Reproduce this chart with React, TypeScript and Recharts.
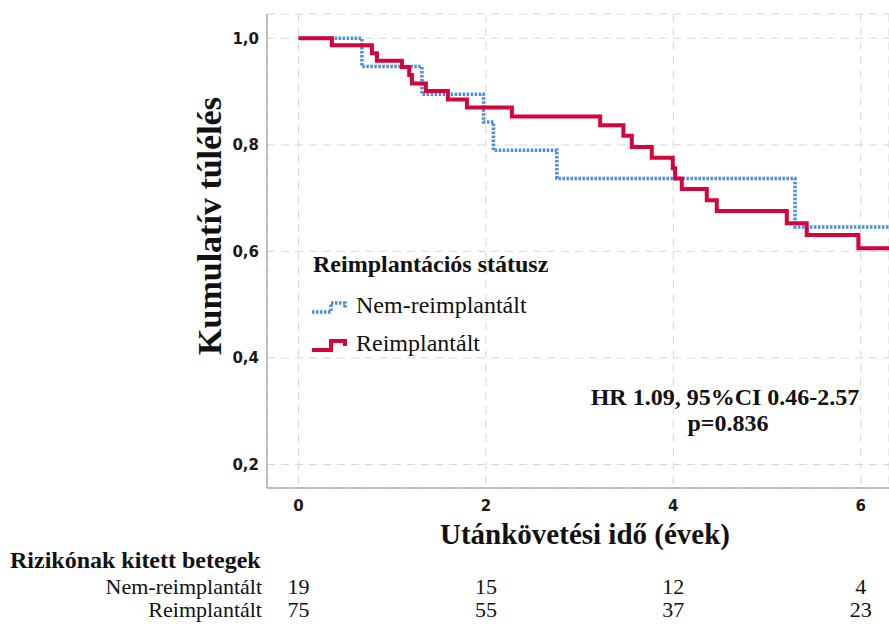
import React from 'react';
import { LineChart, Line, XAxis, YAxis, CartesianGrid, Legend } from 'recharts';

// ---- data ----
const timeTicks = [0, 2, 4, 6];
const survivalTicks = [0.2, 0.4, 0.6, 0.8, 1.0];

const nonReimplTimes = [0, 0.676, 1.317, 1.974, 2.08, 2.757, 5.299, 6.31];
const nonReimplSurvival = [1.0, 0.947, 0.895, 0.843, 0.79, 0.737, 0.646, 0.646];

const reimplTimes = [
  0, 0.356, 0.783, 0.836, 1.103, 1.181, 1.21, 1.359, 1.594, 1.797, 2.277, 3.219,
  3.467, 3.557, 3.77, 3.994, 4.019, 4.09, 4.357, 4.464, 5.211, 5.424, 5.975, 6.31,
];
const reimplSurvival = [
  1.0, 0.987, 0.972, 0.958, 0.946, 0.931, 0.915, 0.901, 0.885, 0.87, 0.853, 0.837,
  0.817, 0.796, 0.776, 0.756, 0.737, 0.717, 0.696, 0.676, 0.653, 0.631, 0.606, 0.606,
];

const seriesNames = ['Nem-reimplantált', 'Reimplantált'];
const riskNonReimpl = [19, 15, 12, 4];
const riskReimpl = [75, 55, 37, 23];

const legendTitle = 'Reimplantációs státusz';
const yTitle = 'Kumulatív túlélés';
const xTitle = 'Utánkövetési idő (évek)';
const riskTitle = 'Rizikónak kitett betegek';
const hrText = 'HR 1.09, 95%CI 0.46-2.57';
const pText = 'p=0.836';

const nonReimplData = nonReimplTimes.map((t, i) => ({ t, s: nonReimplSurvival[i] }));
const reimplData = reimplTimes.map((t, i) => ({ t, s: reimplSurvival[i] }));

const BLUE = '#4a8fdf';
const RED = '#d2063c';
const SERIF = "'Liberation Serif', 'Times New Roman', serif";
const SANS = "'DejaVu Sans', sans-serif";

const XTick = (props: any) => {
  const { x, y, payload, index } = props;
  return (
    <g>
      <text x={x} y={y + 23} textAnchor="middle" fontFamily={SANS} fontWeight="bold" fontSize={15} fill="#1a1a1a">
        {payload.value}
      </text>
      <text x={x} y={y + 106} textAnchor="middle" fontFamily={SERIF} fontSize={22} fill="#111">
        {riskNonReimpl[index]}
      </text>
      <text x={x} y={y + 129} textAnchor="middle" fontFamily={SERIF} fontSize={22} fill="#111">
        {riskReimpl[index]}
      </text>
    </g>
  );
};

const LegendContent = (props: any) => {
  const payload = props.payload || [];
  return (
    <svg width={260} height={110} style={{ display: 'block', overflow: 'visible' }}>
      <text x={13} y={22} fontFamily={SERIF} fontWeight="bold" fontSize={24} fill="#111">
        {legendTitle}
      </text>
      {payload.map((entry: any, i: number) => {
        const cy = i === 0 ? 56 : 94;
        const dotted = i === 0;
        return (
          <g key={i}>
            <path
              d={`M12,${cy + 6} H31 V${cy - 3} H45 V${cy + 2}`}
              fill="none"
              stroke={entry.color}
              strokeWidth={dotted ? 3.5 : 4}
              strokeDasharray={dotted ? '2.5 1.5' : undefined}
            />
            <text x={56} y={cy + 7} fontFamily={SERIF} fontSize={24} fill="#111">
              {entry.value}
            </text>
          </g>
        );
      })}
    </svg>
  );
};

export default function App() {
  return (
    <div style={{ position: 'absolute', left: 0, top: 0, width: 889, height: 625, background: '#fff' }}>
      <LineChart width={889} height={625} margin={{ top: 14, right: 0, left: 0, bottom: 0 }}>
        <CartesianGrid stroke="#d6d6d6" strokeDasharray="8 6" />
        <XAxis
          type="number"
          dataKey="t"
          domain={[-0.337, 6.302]}
          ticks={timeTicks}
          allowDataOverflow
          height={137}
          tickLine={false}
          tickSize={0}
          tickMargin={0}
          axisLine={{ stroke: '#8a8a8a' }}
          tick={<XTick />}
          interval={0}
        />
        <YAxis
          type="number"
          domain={[0.156, 1.0456]}
          ticks={survivalTicks}
          allowDataOverflow
          width={267}
          tickLine={false}
          axisLine={{ stroke: '#8a8a8a' }}
          tickFormatter={(v: number) => v.toFixed(1).replace('.', ',')}
          tick={{ fontFamily: SANS, fontWeight: 'bold', fontSize: 15, fill: '#1a1a1a' }}
          interval={0}
        />
        <Legend
          layout="horizontal"
          verticalAlign="middle"
          align="center"
          content={<LegendContent />}
          wrapperStyle={{ left: 300, top: 250, width: 260, height: 110 }}
        />
        <Line
          data={nonReimplData}
          dataKey="s"
          name={seriesNames[0]}
          type="stepAfter"
          stroke={BLUE}
          strokeWidth={3.5}
          strokeDasharray="2.5 1.5"
          dot={false}
          activeDot={false}
          isAnimationActive={false}
        />
        <Line
          data={reimplData}
          dataKey="s"
          name={seriesNames[1]}
          type="stepAfter"
          stroke={RED}
          strokeWidth={4}
          dot={false}
          activeDot={false}
          isAnimationActive={false}
        />
      </LineChart>
      <svg
        width={889}
        height={625}
        style={{ position: 'absolute', left: 0, top: 0, pointerEvents: 'none' }}
      >
        <text
          x={221}
          y={226}
          transform="rotate(-90, 221, 226)"
          textAnchor="middle"
          fontFamily={SERIF}
          fontWeight="bold"
          fontSize={34}
          fill="#111"
        >
          {yTitle}
        </text>
        <text x={585} y={544} textAnchor="middle" fontFamily={SERIF} fontWeight="bold" fontSize={29} fill="#111">
          {xTitle}
        </text>
        <text x={10} y={568} fontFamily={SERIF} fontWeight="bold" fontSize={24} fill="#111">
          {riskTitle}
        </text>
        <text x={262} y={594} textAnchor="end" fontFamily={SERIF} fontSize={22} fill="#111">
          {seriesNames[0]}
        </text>
        <text x={262} y={617} textAnchor="end" fontFamily={SERIF} fontSize={22} fill="#111">
          {seriesNames[1]}
        </text>
        <text x={725} y={405} textAnchor="middle" fontFamily={SERIF} fontWeight="bold" fontSize={24} fill="#111">
          {hrText}
        </text>
        <text x={728} y={431} textAnchor="middle" fontFamily={SERIF} fontWeight="bold" fontSize={24} fill="#111">
          {pText}
        </text>
      </svg>
    </div>
  );
}
